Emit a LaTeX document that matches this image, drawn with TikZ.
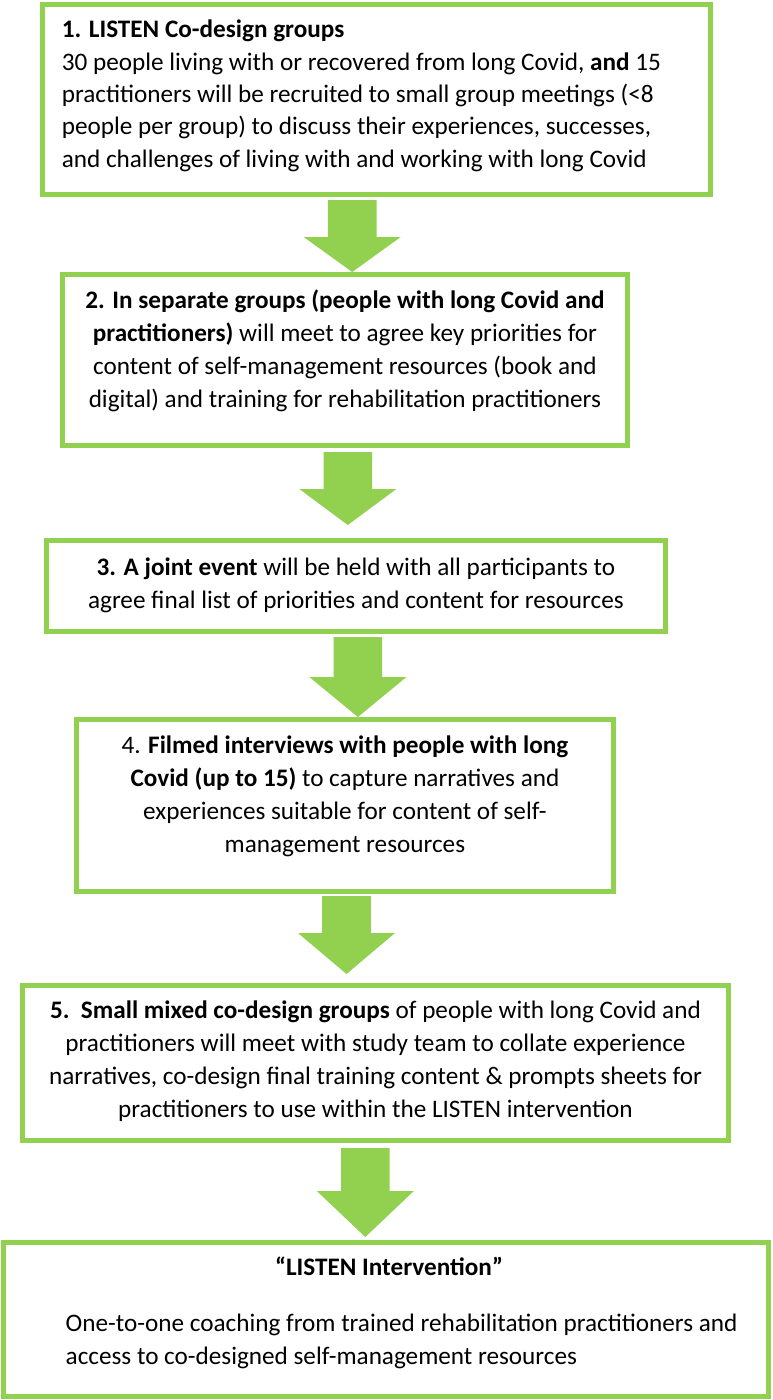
\documentclass[tikz,border=0pt]{standalone}
\usepackage{fontspec}
\setmainfont{Carlito}
\usetikzlibrary{calc}
\definecolor{lgreen}{HTML}{92D050}
\tikzset{
  box/.style={draw=lgreen, line width=5pt, fill=white, rectangle, inner sep=0pt},
  txt/.style={inner sep=0pt, font=\fontsize{25.2}{33}\selectfont, text=black}
}
% from node, to node, centre x, top gap, head length, tip gap
\newcommand{\blockarrow}[6]{%
  \fill[lgreen] let \p1=(#1.south), \p2=(#2.north) in
    (#3pt-24.3pt,\y1-#4pt) -- (#3pt+24.3pt,\y1-#4pt) -- (#3pt+24.3pt,\y2+#6pt+#5pt)
    -- (#3pt+48.5pt,\y2+#6pt+#5pt) -- (#3pt,\y2+#6pt) -- (#3pt-48.5pt,\y2+#6pt+#5pt)
    -- (#3pt-24.3pt,\y2+#6pt+#5pt) -- cycle;}
\begin{document}
\begin{tikzpicture}[x=1pt,y=1pt]
\useasboundingbox[fill=white] (0,0) rectangle (772,-1400);

\node[box, minimum width=667.9pt, minimum height=190pt] (b1) at (376.9,-99.5) {};
\node[box, minimum width=564.5pt, minimum height=171pt] (b2) at (344.9,-360) {};
\node[box, minimum width=618.2pt, minimum height=91pt] (b3) at (355.9,-586) {};
\node[box, minimum width=536.9pt, minimum height=172pt] (b4) at (344.9,-805.5) {};
\node[box, minimum width=706pt, minimum height=155pt] (b5) at (375.5,-1063) {};
\node[box, minimum width=765pt, minimum height=154pt] (b6) at (386,-1319.5) {};

\blockarrow{b1}{b2}{352.2}{3}{35}{0}
\blockarrow{b2}{b3}{347.8}{4}{36}{13}
\blockarrow{b3}{b4}{357.9}{3}{40}{0}
\blockarrow{b4}{b5}{346.5}{2}{41}{9}
\blockarrow{b5}{b6}{365.3}{5}{46}{3}

\node[txt, font=\fontsize{25.2}{32.4}\selectfont, anchor=base west] (t1) at (61.6,-37.7) {\begin{tabular}[t]{@{}l@{}}
\textbf{1. LISTEN Co-design groups}\\
30 people living with or recovered from long Covid, \textbf{and} 15\\
practitioners will be recruited to small group meetings (<8\\
people per group) to discuss their experiences, successes,\\
and challenges of living with and working with long Covid
\end{tabular}};

\node[txt, anchor=base] (t2) at (344.9,-308.3) {\begin{tabular}[t]{@{}c@{}}
\textbf{2. In separate groups (people with long Covid and}\\
\textbf{practitioners)} will meet to agree key priorities for\\
content of self-management resources (book and\\
digital) and training for rehabilitation practitioners
\end{tabular}};

\node[txt, anchor=base] (t3) at (355.9,-575) {\begin{tabular}[t]{@{}c@{}}
\textbf{3. A joint event} will be held with all participants to\\
agree final list of priorities and content for resources
\end{tabular}};

\node[txt, anchor=base] (t4) at (344.9,-753.3) {\begin{tabular}[t]{@{}c@{}}
4. \textbf{Filmed interviews with people with long}\\
\textbf{Covid (up to 15)} to capture narratives and\\
experiences suitable for content of self-\\
management resources
\end{tabular}};

\node[txt, anchor=base] (t5) at (375.5,-1018.3) {\begin{tabular}[t]{@{}c@{}}
\textbf{5.\ \ Small mixed co-design groups} of people with long Covid and\\
practitioners will meet with study team to collate experience\\
narratives, co-design final training content \& prompts sheets for\\
practitioners to use within the LISTEN intervention
\end{tabular}};

\node[txt, anchor=base] (t6a) at (389,-1275) {\textbf{“LISTEN Intervention”}};
\node[txt, anchor=base west] (t6b) at (65.5,-1331) {\begin{tabular}[t]{@{}l@{}}
One-to-one coaching from trained rehabilitation practitioners and\\
access to co-designed self-management resources
\end{tabular}};
\end{tikzpicture}
\end{document}
